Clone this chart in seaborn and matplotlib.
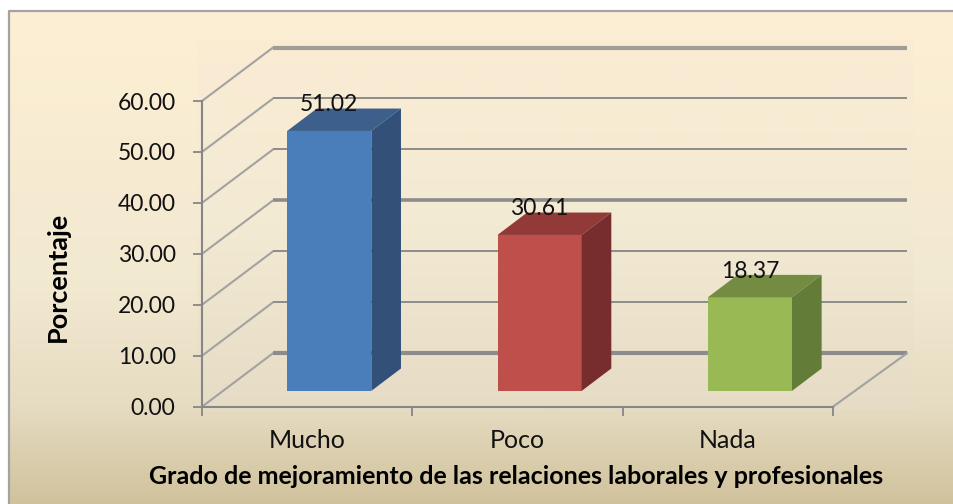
import numpy as np
import pandas as pd
import matplotlib
matplotlib.use("Agg")
import matplotlib.pyplot as plt
import seaborn as sns
from matplotlib.colors import LinearSegmentedColormap
from matplotlib.patches import Polygon

categories = ["Mucho", "Poco", "Nada"]
values = [51.02, 30.61, 18.37]
yticks = [0, 10, 20, 30, 40, 50, 60]
front_colors = ["#4A7EBB", "#BE4F4B", "#98B954"]
top_colors = ["#3C5F8C", "#913A38", "#748C41"]
side_colors = ["#325078", "#772D2D", "#637C37"]

sns.set_theme(style="white")
plt.rcParams['font.family'] = ['Lato', 'DejaVu Sans']

W, H = 954, 504
fig = plt.figure(figsize=(W / 100, H / 100), dpi=100, facecolor="white")

# background gradient, pixel coordinates
bg = fig.add_axes([0, 0, 1, 1], zorder=0)
bg.axis("off")
grad = np.linspace(0, 1, 256).reshape(-1, 1)
outer = LinearSegmentedColormap.from_list(
    "outer", [(0, "#FDEFD3"), (0.55, "#F2E9D1"), (0.8, "#E6DCC2"), (1, "#D0C29C")])
inner = LinearSegmentedColormap.from_list("inner", ["#FBECD3", "#F3EAD3", "#E6DCC5"])
bg.imshow(grad, cmap=outer, extent=(9, W, H, 11), aspect="auto", zorder=1)
bg.imshow(grad, cmap=inner, extent=(197, 914, 410, 40), aspect="auto", zorder=2)
bg.set_xlim(0, W)
bg.set_ylim(H, 0)
bg.plot([9, 9, W], [H, 11, 11], color="#A3A3A3", lw=1.6, zorder=3)

# axes: y 0-60 spans 406.7 to 101 px, three categories span 202 to 833 px
ax = fig.add_axes([202 / W, 1 - 406.7 / H, 631 / W, 305.7 / H], zorder=1)
ax.patch.set_alpha(0)
ax.set_xlim(-0.5, 2.5)
ax.set_ylim(0, 60)

wall_dx, wall_dy = 0.338, 10.5
line_col = "#8C8C8C"
thick = {0: 3.0, 30: 2.6, 60: 3.0}
for v in yticks:
    ax.plot([-0.5, -0.5 + wall_dx], [v, v + wall_dy], color="#A2A2A2", lw=1.5,
            clip_on=False, zorder=1)
    ax.plot([-0.5 + wall_dx, 2.5 + wall_dx + 0.014], [v + wall_dy, v + wall_dy],
            color=line_col if v != 60 else "#A09C98", lw=thick.get(v, 1.4),
            solid_capstyle="butt", clip_on=False, zorder=1)
ax.plot([2.5, 2.5 + wall_dx + 0.014], [0, wall_dy], color="#A2A2A2", lw=1.5,
        clip_on=False, zorder=1)

# bars stand on the floor, shifted from the axis plane
bar_shift = 0.105
floor_y = 3.1
df = pd.DataFrame({"pos": np.arange(3) + bar_shift, "valor": values, "grado": categories})
sns.barplot(data=df, x="pos", y="valor", hue="grado", palette=front_colors, legend=False,
            native_scale=True, width=0.4, bottom=floor_y, saturation=1,
            linewidth=0, ax=ax, zorder=3)

depth_x, depth_y = 0.141, 4.4
for p, tc, sc in zip(ax.patches, top_colors, side_colors):
    x0, x1 = p.get_x(), p.get_x() + p.get_width()
    y0, y1 = p.get_y(), p.get_y() + p.get_height()
    ax.add_patch(Polygon([(x0, y1), (x1, y1), (x1 + depth_x, y1 + depth_y), (x0 + depth_x, y1 + depth_y)],
                         closed=True, fc=tc, ec="none", zorder=3))
    ax.add_patch(Polygon([(x1, y0), (x1 + depth_x, y0 + depth_y), (x1 + depth_x, y1 + depth_y), (x1, y1)],
                         closed=True, fc=sc, ec="none", zorder=3))

# data labels
for i, v in enumerate(values):
    ax.text(i + bar_shift, v + 8.2, f"{v:.2f}", ha="center", va="center",
            fontsize=16.5, color="#111111", zorder=5)

ax.set_xticks([-0.5, 0.5, 1.5, 2.5])
ax.set_xticklabels([])
ax.set_yticks(yticks)
ax.set_yticklabels([f"{v:.2f}" for v in yticks], fontsize=16.5, color="#111111",
                   va="center_baseline")
ax.set_xlabel("")
ax.set_ylabel("")
ax.tick_params(axis="both", which="both", direction="out", length=6.5, width=1.3,
               color="#868686", left=True, bottom=True)
ax.tick_params(axis="y", pad=12.5)
sns.despine(ax=ax, top=True, right=True)
for s in ["left", "bottom"]:
    ax.spines[s].set_color("#868686")
    ax.spines[s].set_linewidth(1.5)
    ax.spines[s].set_zorder(2)

for i, c in enumerate(categories):
    ax.annotate(c, (i, 0), xytext=(0, -24.5), textcoords="offset points", ha="center",
                va="center", fontsize=18, color="#111111", annotation_clip=False)

fig.text(516 / W, 1 - 476 / H, "Grado de mejoramiento de las relaciones laborales y profesionales",
         ha="center", va="center", fontsize=18, fontweight="bold", color="black")
fig.text(58 / W, 1 - 277 / H, "Porcentaje", ha="center", va="center", rotation=90,
         fontsize=19.5, fontweight="bold", color="black")

fig.savefig("out.png", dpi=100)
